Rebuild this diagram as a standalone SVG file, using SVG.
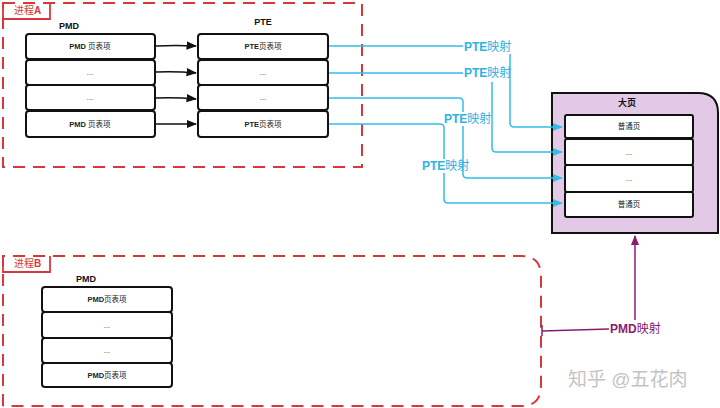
<svg xmlns="http://www.w3.org/2000/svg" width="720" height="408" viewBox="0 0 720 408">
<style>
text{font-family:"Liberation Sans","Noto Sans CJK SC",sans-serif;}
.dash{fill:none;stroke:#d9383a;stroke-width:2;stroke-dasharray:12 8;}
.tag{fill:none;stroke:#d9383a;stroke-width:1.8;}
.tagt{font-size:10px;fill:#d9383a;}
.row{fill:#fff;stroke:#111;stroke-width:2;}
.rt{font-size:7.5px;fill:#222;text-anchor:middle;}
.hd{font-size:9px;font-weight:bold;fill:#111;text-anchor:middle;}
.blk{fill:none;stroke:#111;stroke-width:1.5;}
.blu{fill:none;stroke:#33bde8;stroke-width:1.5;}
.blt{font-size:12px;fill:#2cb3e3;}
.pur{fill:none;stroke:#8c1a6e;stroke-width:1.5;}
.put{font-size:12px;fill:#8c1a6e;}
</style>
<defs>
<marker id="ab" viewBox="0 0 10 10" refX="9" refY="5" markerWidth="7" markerHeight="7" orient="auto"><path d="M0,1 L10,5 L0,9 Z" fill="#111"/></marker>
<marker id="au" viewBox="0 0 10 10" refX="9" refY="5" markerWidth="7" markerHeight="7" orient="auto"><path d="M0,1 L10,5 L0,9 Z" fill="#33bde8"/></marker>
<marker id="ap" viewBox="0 0 10 10" refX="9" refY="5" markerWidth="7" markerHeight="7" orient="auto"><path d="M0,1 L10,5 L0,9 Z" fill="#8c1a6e"/></marker>
</defs>
<rect width="720" height="408" fill="#fff"/>

<g id="processA">
<rect class="dash" x="3" y="3" width="359" height="164"/>
<path class="tag" d="M3,4 V19 H50 V4"/>
<text class="tagt" x="14" y="14">进程<tspan font-weight="bold">A</tspan></text>
</g>

<g id="pmdA">
<text class="hd" x="69" y="29">PMD</text>
<rect class="row" x="26" y="34" width="129" height="25" rx="3"/>
<rect class="row" x="26" y="60" width="129" height="25" rx="3"/>
<rect class="row" x="26" y="85" width="129" height="25" rx="3"/>
<rect class="row" x="26" y="111" width="129" height="26" rx="3"/>
<text class="rt" x="90" y="49"><tspan font-weight="bold">PMD</tspan> 页表项</text>
<text class="rt" x="90" y="75">...</text>
<text class="rt" x="90" y="100">...</text>
<text class="rt" x="90" y="127"><tspan font-weight="bold">PMD</tspan> 页表项</text>
</g>

<g id="pteA">
<text class="hd" x="263" y="25">PTE</text>
<rect class="row" x="198" y="34" width="130" height="25" rx="3"/>
<rect class="row" x="198" y="60" width="130" height="25" rx="3"/>
<rect class="row" x="198" y="85" width="130" height="25" rx="3"/>
<rect class="row" x="198" y="111" width="130" height="26" rx="3"/>
<text class="rt" x="263" y="49"><tspan font-weight="bold">PTE</tspan>页表项</text>
<text class="rt" x="263" y="75">...</text>
<text class="rt" x="263" y="100">...</text>
<text class="rt" x="263" y="127"><tspan font-weight="bold">PTE</tspan>页表项</text>
</g>

<g id="hugepage">
<path d="M552,93 H698 Q718,93 718,113 V233 H552 Z" fill="#e2c9e6" stroke="#111" stroke-width="2"/>
<text class="hd" x="627" y="106" font-weight="normal">大页</text>
<rect class="row" x="565" y="115" width="128" height="23" rx="2"/>
<rect class="row" x="565" y="139" width="128" height="26" rx="2"/>
<rect class="row" x="565" y="165" width="128" height="27" rx="2"/>
<rect class="row" x="565" y="192" width="128" height="25" rx="2"/>
<text class="rt" x="629" y="129">普通页</text>
<text class="rt" x="629" y="155">...</text>
<text class="rt" x="629" y="181">...</text>
<text class="rt" x="629" y="207">普通页</text>
</g>

<g id="processB">
<path class="dash" d="M3,406 V256 H521 Q541,256 541,276 V386 Q541,406 521,406 H3"/>
<path class="tag" d="M3,256 V272 H50 V256"/>
<text class="tagt" x="14" y="267">进程<tspan font-weight="bold">B</tspan></text>
</g>

<g id="pmdB">
<text class="hd" x="86" y="282">PMD</text>
<rect class="row" x="42" y="287" width="130" height="25" rx="3"/>
<rect class="row" x="42" y="312" width="130" height="26" rx="3"/>
<rect class="row" x="42" y="338" width="130" height="25" rx="3"/>
<rect class="row" x="42" y="363" width="130" height="24" rx="3"/>
<text class="rt" x="107" y="302"><tspan font-weight="bold">PMD</tspan>页表项</text>
<text class="rt" x="107" y="328">...</text>
<text class="rt" x="107" y="353">...</text>
<text class="rt" x="107" y="378"><tspan font-weight="bold">PMD</tspan>页表项</text>
</g>

<g id="connectors">
<path class="blk" d="M156,46 Q175,45 196,46" marker-end="url(#ab)"/>
<path class="blk" d="M156,72 Q175,71 196,73" marker-end="url(#ab)"/>
<path class="blk" d="M156,98 Q175,97 196,99" marker-end="url(#ab)"/>
<path class="blk" d="M156,124 H196" marker-end="url(#ab)"/>

<path class="blu" d="M329,46 H463"/>
<path class="blu" d="M510,54 V123 Q510,127 514,127 H562" marker-end="url(#au)"/>
<path class="blu" d="M329,73 H463"/>
<path class="blu" d="M492,82 V148 Q492,152 496,152 H562" marker-end="url(#au)"/>
<path class="blu" d="M329,98 H459 Q463,98 463,102 V112 M463,126 V174 Q463,178 467,178 H562" marker-end="url(#au)"/>
<path class="blu" d="M329,124 H440 Q444,124 444,128 V159 M444,173 V199 Q444,203 448,203 H562" marker-end="url(#au)"/>
<text class="blt" x="464" y="51"><tspan font-weight="bold">PTE</tspan>映射</text>
<text class="blt" x="464" y="77"><tspan font-weight="bold">PTE</tspan>映射</text>
<text class="blt" x="444" y="123"><tspan font-weight="bold">PTE</tspan>映射</text>
<text class="blt" x="422" y="170"><tspan font-weight="bold">PTE</tspan>映射</text>

<path class="pur" d="M635,320 V236" marker-end="url(#ap)"/>
<path class="pur" d="M609,329 Q580,330 542,331 M542,325 V336"/>
<text class="put" x="610" y="333"><tspan font-weight="bold">PMD</tspan>映射</text>
</g>

<text x="568" y="386" font-size="19" fill="#c4c4c4">知乎 @五花肉</text>
</svg>
